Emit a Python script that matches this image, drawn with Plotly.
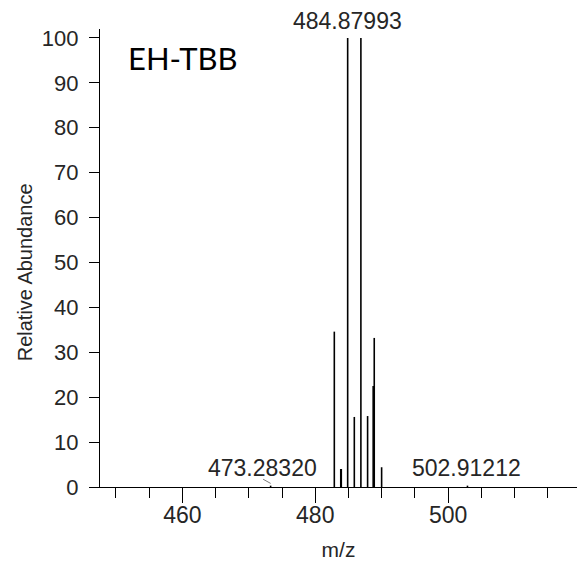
import plotly.graph_objects as go

# Centroid peaks (m/z, relative abundance)
mz = [473.28320, 482.87, 483.84, 483.92, 484.87993, 485.88, 486.87, 487.88, 488.72, 488.88, 489.99, 502.91212]
abundance = [0.3, 34.6, 4.0, 4.0, 100.0, 15.6, 100.0, 15.8, 22.5, 33.2, 4.4, 0.3]

labels_mz = [484.87993, 473.28320, 502.91212]
labels_txt = ["484.87993", "473.28320", "502.91212"]

xs, ys = [], []
for m, a in zip(mz, abundance):
    xs += [m, m, None]
    ys += [0, a, None]

fig = go.Figure()
fig.add_trace(go.Scatter(x=xs, y=ys, mode="lines",
                         line=dict(color="black", width=1.6),
                         hoverinfo="skip", showlegend=False, cliponaxis=False))

FONT = "Liberation Sans, Arial, sans-serif"
TXT = "#262626"
FS = 23

# top label
fig.add_annotation(x=labels_mz[0], y=100, text=labels_txt[0], showarrow=False,
                   yanchor="bottom", yshift=2, font=dict(family=FONT, size=FS, color=TXT))
# small labels near baseline
fig.add_annotation(x=labels_mz[1], y=0, text=labels_txt[1], showarrow=False,
                   yanchor="middle", xshift=-8, yshift=19, font=dict(family=FONT, size=FS, color=TXT))
fig.add_annotation(x=labels_mz[1], y=0.8, text="", showarrow=True, arrowhead=0,
                   arrowwidth=0.8, arrowcolor="#555", ax=-9, ay=-5)
fig.add_annotation(x=labels_mz[2], y=0, text=labels_txt[2], showarrow=False,
                   yanchor="middle", xshift=-1, yshift=19, font=dict(family=FONT, size=FS, color=TXT))

fig.add_annotation(xref="paper", yref="paper", x=0.054, y=0.937, text="EH-TBB",
                   showarrow=False, xanchor="left", yanchor="middle",
                   font=dict(family="Lato, Carlito, sans-serif", size=31, color="black"))

# y-axis title
fig.add_annotation(xref="paper", yref="paper", x=-0.157, y=0.469, text="Relative Abundance",
                   showarrow=False, textangle=-90, xanchor="center", yanchor="middle",
                   font=dict(family=FONT, size=20, color=TXT))

fig.update_layout(
    width=577, height=562,
    margin=dict(l=100, r=0, t=29, b=75),
    paper_bgcolor="white", plot_bgcolor="white",
    font=dict(family=FONT, size=FS, color=TXT),
)
fig.update_xaxes(range=[447.6, 519.4], showgrid=False, zeroline=False,
                 showline=True, linecolor="black", linewidth=1.3,
                 ticks="outside", ticklen=15, tickwidth=1.3, tickcolor="black",
                 tickvals=[460, 480, 500], ticklabelstandoff=-8,
                 minor=dict(dtick=5, tick0=450, ticks="outside", ticklen=10, tickwidth=1.3, tickcolor="black"),
                 tickfont=dict(size=FS),
                 title=dict(text="m/z", font=dict(size=21), standoff=15))
fig.update_yaxes(range=[0, 102], showgrid=False, zeroline=False,
                 showline=True, linecolor="black", linewidth=1.3,
                 ticks="outside", ticklen=10, tickwidth=1.3, tickcolor="black",
                 tickvals=list(range(0, 101, 10)), ticklabelstandoff=6,
                 tickfont=dict(size=22))

fig.write_html("out.html")
